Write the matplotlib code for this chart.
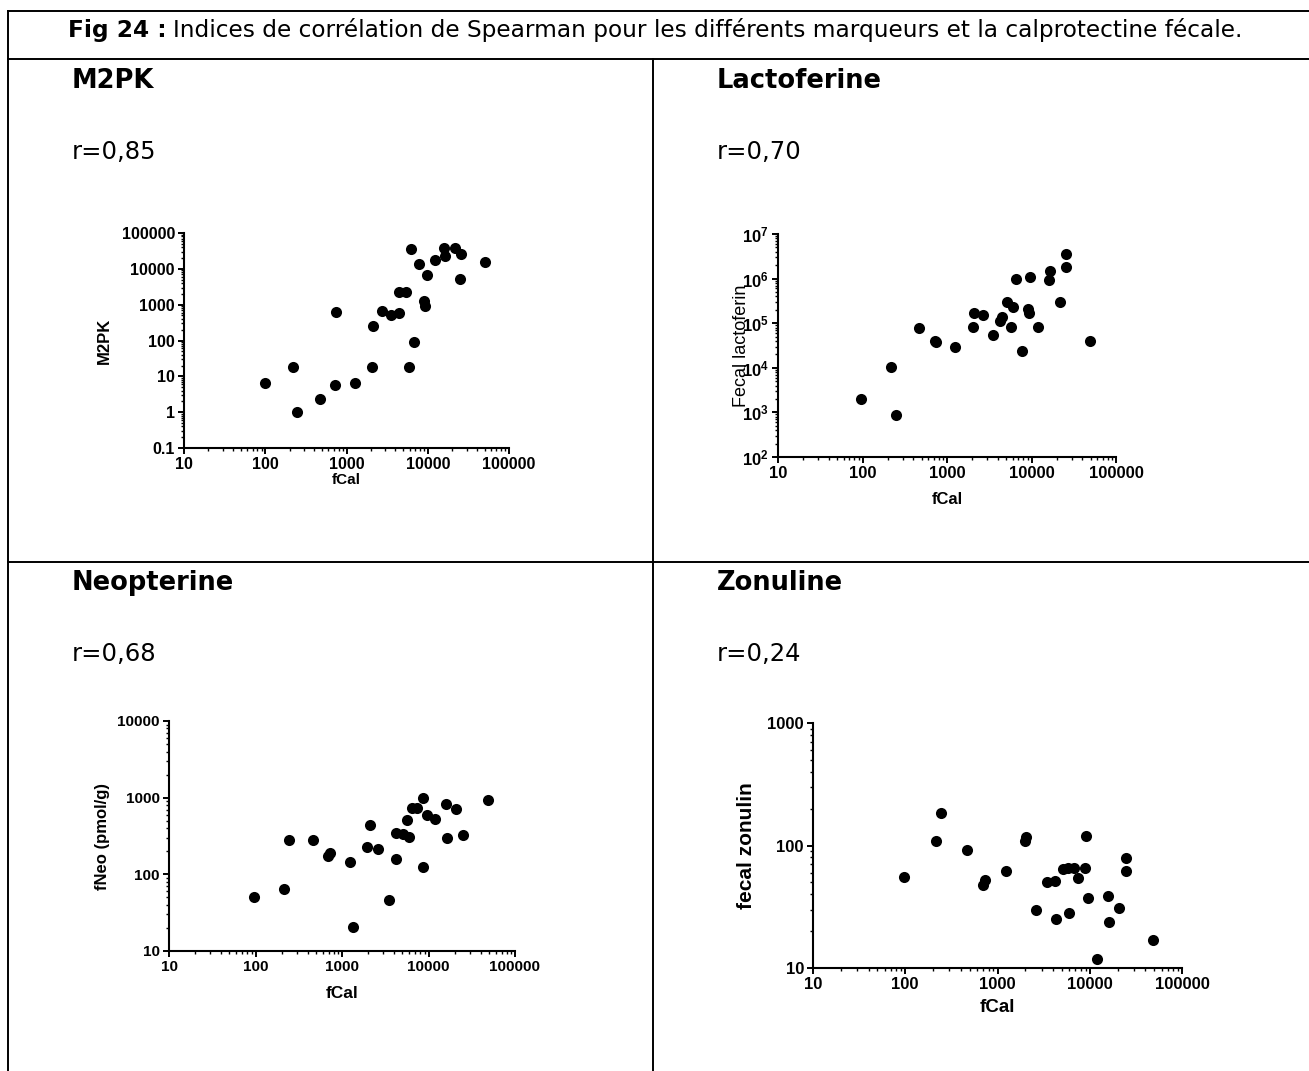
import matplotlib
matplotlib.use("Agg")
import matplotlib.pyplot as plt
from matplotlib.lines import Line2D
from matplotlib.ticker import LogLocator, NullFormatter

plt.rcParams['font.family'] = ['Liberation Sans', 'DejaVu Sans']
plt.rcParams['mathtext.fontset'] = 'custom'
plt.rcParams['mathtext.rm'] = 'Liberation Sans:bold'
plt.rcParams['mathtext.bf'] = 'Liberation Sans:bold'
DOC_FONT = ['DejaVu Sans']

W, H = 1309, 1071

# ---- data (fCal vs each marker) ----
m2pk_fcal = [98, 220, 248, 468, 721, 750, 1260, 2080, 2120, 2710, 3560, 4390, 4390,
             5350, 5820, 6280, 6770, 7730, 8910, 9330, 9790, 12200, 16000, 16500,
             21600, 25400, 25200, 50200]
m2pk = [6.7, 17.9, 0.98, 2.35, 5.8, 630, 6.4, 17.9, 247, 675, 510, 600, 2230,
        2230, 18.7, 35100, 93, 13700, 1250, 910, 6640, 17700, 38200, 22400,
        38200, 26600, 5140, 15600]

lacto_fcal = [97, 217, 246, 466, 721, 740, 1245, 2050, 2110, 2700, 3540, 4250, 4450,
              5190, 5750, 6120, 6580, 7680, 8970, 9300, 9640, 12100, 15900, 16600,
              21900, 25300, 25500, 49700]
lacto = [2020, 10200, 857, 77300, 40900, 37800, 29000, 81300, 167000, 149000, 54800,
         113000, 141000, 305000, 84000, 228000, 1000000, 23200, 206000, 173000,
         1110000, 81300, 933000, 1510000, 305000, 1860000, 3510000, 38900]

neo_fcal = [96, 214, 245, 456, 698, 720, 1230, 1350, 1970, 2100, 2620, 3520, 4160,
            4200, 5100, 5580, 5990, 6480, 7410, 8550, 8720, 9500, 11900, 15800,
            16200, 20900, 24800, 49100]
neo = [50, 65, 277, 283, 173, 192, 145, 20.6, 228, 444, 216, 46.8, 346, 158, 338,
       506, 307, 733, 733, 125, 1000, 600, 521, 819, 301, 705, 323, 923]

zon_fcal = [97, 215, 242, 463, 701, 725, 1230, 1990, 2060, 2620, 3420, 4210, 4290,
            5100, 5780, 6020, 6670, 7550, 8920, 9150, 9520, 11900, 15600, 16000,
            21000, 24800, 24600, 48400]
zon = [55, 108, 184, 92, 48, 52, 62, 108, 117, 30, 50, 51, 25, 64, 65, 28, 65, 54,
       65, 119, 37, 11.8, 38.5, 23.8, 31, 79, 62, 16.8]

titles = ["M2PK", "Lactoferine", "Neopterine", "Zonuline"]
r_texts = ["r=0,85", "r=0,70", "r=0,68", "r=0,24"]
ylabels = ["M2PK", "Fecal lactoferin", "fNeo (pmol/g)", "fecal zonulin"]
x_ticks = [10, 100, 1000, 10000, 100000]
x_ticklabels = ["10", "100", "1000", "10000", "100000"]
y_ticks_m2pk = [0.1, 1, 10, 100, 1000, 10000, 100000]
y_labels_m2pk = ["0.1", "1", "10", "100", "1000", "10000", "100000"]
y_ticks_lacto = [1e2, 1e3, 1e4, 1e5, 1e6, 1e7]
y_labels_lacto = [r"$\mathbf{10^{%d}}$" % e for e in range(2, 8)]
y_ticks_neo = [10, 100, 1000, 10000]
y_labels_neo = ["10", "100", "1000", "10000"]
y_ticks_zon = [10, 100, 1000]
y_labels_zon = ["10", "100", "1000"]
header_bold = "Fig 24 :"
header_rest = "Indices de corrélation de Spearman pour les différents marqueurs et la calprotectine fécale."

fig = plt.figure(figsize=(W / 100, H / 100), dpi=100)


def fx(px):
    return px / W


def fy(py):
    return 1 - py / H


# ---- table frame ----
lw_tab = 1.4
for y in (11, 59, 562):
    fig.add_artist(Line2D([fx(8), 1], [fy(y), fy(y)], color="black", lw=lw_tab))
fig.add_artist(Line2D([fx(8), fx(8)], [fy(11), 0], color="black", lw=lw_tab))
fig.add_artist(Line2D([fx(653), fx(653)], [fy(59), 0], color="black", lw=lw_tab))

# header text: bold lead-in followed by regular text, spanning x 68 -> 1247
hx0, hx1, hy = 68, 1247, 30
hsize = 16.0
t1 = fig.text(fx(hx0), fy(hy), header_bold, fontsize=hsize, fontweight="bold",
              family=DOC_FONT, ha="left", va="center")
fig.canvas.draw()
bb = t1.get_window_extent()
t2 = fig.text(fx(bb.x1 + 6), fy(hy), header_rest, fontsize=hsize, family=DOC_FONT,
              ha="left", va="center")
fig.canvas.draw()
total = t2.get_window_extent().x1 - hx0
hsize = hsize * (hx1 - hx0) / total
t1.set_fontsize(hsize)
fig.canvas.draw()
bb = t1.get_window_extent()
t2.set_fontsize(hsize)
t2.set_x(fx(bb.x1 + 6))

# ---- panels ----
panels = [
    dict(x=m2pk_fcal, y=m2pk, tx=72, ty=81, box=(184, 233, 509, 448),
         yt=y_ticks_m2pk, yl=y_labels_m2pk, ylabel_x=104, xlabel_y=480,
         bold=True, tsize=11.5, ysize=12, xsize=11),
    dict(x=lacto_fcal, y=lacto, tx=717, ty=81, box=(778, 234, 1116, 457),
         yt=y_ticks_lacto, yl=y_labels_lacto, ylabel_x=741, xlabel_y=499,
         bold=False, tsize=12, ysize=13, xsize=12),
    dict(x=neo_fcal, y=neo, tx=72, ty=583, box=(169, 721, 515, 951),
         yt=y_ticks_neo, yl=y_labels_neo, ylabel_x=102, xlabel_y=993,
         bold=True, tsize=11, ysize=12, xsize=12.5),
    dict(x=zon_fcal, y=zon, tx=717, ty=583, box=(813, 723, 1182, 968),
         yt=y_ticks_zon, yl=y_labels_zon, ylabel_x=746, xlabel_y=1007,
         bold=True, tsize=12, ysize=15, xsize=13.5),
]

for i, p in enumerate(panels):
    fig.text(fx(p["tx"]), fy(p["ty"]), titles[i], fontsize=18.5, fontweight="bold",
             family=DOC_FONT, ha="left", va="center")
    fig.text(fx(p["tx"]), fy(p["ty"] + 71), r_texts[i], fontsize=17.5,
             family=DOC_FONT, ha="left", va="center")

    l, t, r, b = p["box"]
    ax = fig.add_axes([fx(l), fy(b), (r - l) / W, (b - t) / H])
    ax.set_xscale("log")
    ax.set_yscale("log")
    ax.scatter(p["x"], p["y"], s=64, color="black", zorder=3, clip_on=False,
               linewidths=0)
    ax.set_xlim(x_ticks[0], x_ticks[-1])
    ax.set_ylim(p["yt"][0], p["yt"][-1])
    ax.set_xticks(x_ticks, x_ticklabels)
    ax.set_yticks(p["yt"], p["yl"])
    ax.xaxis.set_minor_locator(LogLocator(base=10, subs=range(2, 10), numticks=50))
    ax.yaxis.set_minor_locator(LogLocator(base=10, subs=range(2, 10), numticks=50))
    ax.xaxis.set_minor_formatter(NullFormatter())
    ax.yaxis.set_minor_formatter(NullFormatter())
    for side in ("top", "right"):
        ax.spines[side].set_visible(False)
    for side in ("left", "bottom"):
        ax.spines[side].set_linewidth(1.5)
    ax.tick_params(which="major", length=4.5, width=1.4, labelsize=p["tsize"], pad=2)
    ax.tick_params(which="minor", length=2.5, width=1.0)
    for lab in ax.get_xticklabels() + ax.get_yticklabels():
        lab.set_fontweight("bold")
    ax.patch.set_alpha(0)

    ax.set_xlabel("fCal", fontsize=p["xsize"], fontweight="bold")
    ax.xaxis.set_label_coords(0.5, (b - p["xlabel_y"]) / (b - t))
    ax.xaxis.label.set_va("center")
    ax.set_ylabel(ylabels[i], fontsize=p["ysize"],
                  fontweight="bold" if p["bold"] else "normal")
    ax.yaxis.set_label_coords((p["ylabel_x"] - l) / (r - l), 0.5)
    ax.yaxis.label.set_va("center")

fig.savefig("out.png", dpi=100)
